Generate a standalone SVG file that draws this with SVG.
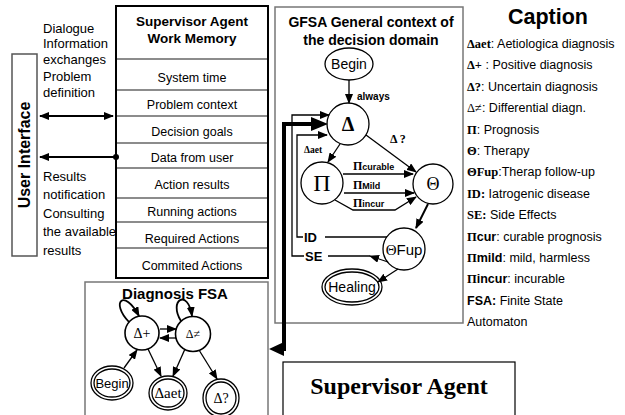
<svg xmlns="http://www.w3.org/2000/svg" width="625" height="415" viewBox="0 0 625 415">
<defs>
<marker id="ah" markerUnits="userSpaceOnUse" markerWidth="10" markerHeight="8" refX="9" refY="4" orient="auto"><path d="M0,0 L10,4 L0,8 z" fill="#000"/></marker>
<marker id="ahs" markerUnits="userSpaceOnUse" markerWidth="10" markerHeight="8" refX="1" refY="4" orient="auto"><path d="M10,0 L0,4 L10,8 z" fill="#000"/></marker>
</defs>
<style>
.sans{font-family:"Liberation Sans",Arial,sans-serif}
.serif{font-family:"Liberation Serif","Times New Roman",serif}
.b{font-weight:bold}
.box{fill:#fff;stroke:#000;stroke-width:2}
.gbox{fill:none;stroke:#777;stroke-width:1.5}
.row{stroke:#666;stroke-width:1.5}
.node{fill:#fff;stroke:#000;stroke-width:1.3}
.dn{fill:#fff;stroke:#000;stroke-width:1.6}
.ln{fill:none;stroke:#000;stroke-width:1.3}
.tk{fill:none;stroke:#000;stroke-width:1.8}
.mid{text-anchor:middle}
.cap{font-size:12.5px}
</style>
<rect width="625" height="415" fill="#fff"/>

<g id="user-interface">
<rect x="12" y="54" width="25" height="202" fill="#fff" stroke="#555" stroke-width="1.5"/>
<text class="sans b mid" font-size="16" transform="translate(30,155) rotate(-90)">User Interface</text>
</g>

<g id="left-texts" class="sans" font-size="13">
<text x="43" y="33">Dialogue</text>
<text x="43" y="48">Information</text>
<text x="43" y="64">exchanges</text>
<text x="43" y="81">Problem</text>
<text x="43" y="97">definition</text>
<text x="43" y="181">Results</text>
<text x="43" y="199">notification</text>
<text x="43" y="218">Consulting</text>
<text x="43" y="236">the available</text>
<text x="43" y="255">results</text>
</g>

<g id="work-memory">
<rect class="box" x="116" y="6" width="152" height="272"/>
<line class="row" x1="117" y1="59" x2="267" y2="59"/>
<line class="row" x1="117" y1="90" x2="267" y2="90"/>
<line class="row" x1="117" y1="116" x2="267" y2="116"/>
<line class="row" x1="117" y1="143" x2="267" y2="143"/>
<line class="row" x1="117" y1="168" x2="267" y2="168"/>
<line class="row" x1="117" y1="198" x2="267" y2="198"/>
<line class="row" x1="117" y1="222" x2="267" y2="222"/>
<line class="row" x1="117" y1="248" x2="267" y2="248"/>
<g class="sans mid" font-size="12.5">
<text class="b" x="192" y="26" font-size="13.5">Supervisor Agent</text>
<text class="b" x="192" y="43" font-size="13.5">Work Memory</text>
<text x="192" y="82">System time</text>
<text x="192" y="109">Problem context</text>
<text x="192" y="136">Decision goals</text>
<text x="192" y="162">Data from user</text>
<text x="192" y="189">Action results</text>
<text x="192" y="216">Running actions</text>
<text x="192" y="243">Required Actions</text>
<text x="192" y="270">Commited Actions</text>
</g>
</g>

<g id="gfsa">
<rect class="gbox" x="275" y="7" width="188" height="316"/>
<text class="sans b mid" x="371" y="27" font-size="14">GFSA General context of</text>
<text class="sans b mid" x="371" y="45" font-size="14">the decision domain</text>
</g>

<g id="gfsa-begin"><ellipse class="node" cx="349" cy="64" rx="24" ry="16"/><text class="sans mid" x="349" y="69" font-size="14">Begin</text></g>
<g id="gfsa-delta"><circle class="node" cx="348" cy="124" r="21"/><text class="serif b mid" x="348" y="131" font-size="20">Δ</text></g>
<g id="gfsa-pi"><circle class="node" cx="322" cy="183" r="21"/><text class="serif mid" x="322" y="191" font-size="24">Π</text></g>
<g id="gfsa-theta"><circle class="node" cx="433" cy="184" r="20"/><text class="serif mid" x="433" y="190" font-size="18">Θ</text></g>
<g id="gfsa-thetafup"><circle class="node" cx="404" cy="249" r="21"/><text class="mid" x="404" y="255" font-size="15"><tspan class="serif">Θ</tspan><tspan class="sans">Fup</tspan></text></g>
<g id="gfsa-healing"><ellipse class="node" cx="352" cy="287" rx="30" ry="18"/><ellipse class="node" cx="352" cy="287" rx="27" ry="15"/><text class="sans mid" x="352" y="292" font-size="14">Healing</text></g>

<g id="gfsa-connectors">
<line class="ln" x1="349" y1="80" x2="349" y2="103" marker-end="url(#ah)"/>
<text class="sans b" x="357" y="100" font-size="10">always</text>
<line class="ln" x1="366" y1="135" x2="416" y2="172" marker-end="url(#ah)"/>
<text class="serif b" x="390" y="143" font-size="12">Δ ?</text>
<line class="ln" x1="340" y1="144" x2="328" y2="162" marker-end="url(#ah)"/>
<text class="serif b" x="304" y="153" font-size="9.5">Δaet</text>
<line class="ln" x1="343" y1="174" x2="413" y2="174" marker-end="url(#ah)"/>
<text class="b" x="353" y="170"><tspan class="serif" font-size="12">Π</tspan><tspan class="sans" font-size="9">curable</tspan></text>
<line class="ln" x1="344" y1="193" x2="414" y2="193" marker-end="url(#ah)"/>
<text class="b" x="353" y="189"><tspan class="serif" font-size="12">Π</tspan><tspan class="sans" font-size="9">Mild</tspan></text>
<path class="ln" d="M335,200 L353,210 L395,210 L416,197" marker-end="url(#ah)"/>
<text class="b" x="353" y="207"><tspan class="serif" font-size="12">Π</tspan><tspan class="sans" font-size="9">incur</tspan></text>
<line x1="428" y1="204" x2="416" y2="228" stroke="#000" stroke-width="2" marker-end="url(#ah)"/>
<line class="ln" x1="387" y1="237" x2="325" y2="237"/>
<path class="ln" d="M303,237 L297,237 L297,135 L327,135" marker-end="url(#ah)"/>
<text class="sans b" x="304" y="242" font-size="13">ID</text>
<line class="ln" x1="388" y1="262" x2="370" y2="256" marker-end="url(#ah)"/>
<line class="ln" x1="370" y1="256" x2="328" y2="256"/>
<path class="ln" d="M304,256 L292,256 L292,115 L329,115" marker-end="url(#ah)"/>
<text class="sans b" x="305" y="261" font-size="13">SE</text>
<line class="ln" x1="398" y1="269" x2="378" y2="282" marker-end="url(#ah)"/>
<path d="M284,351 L284,124 L312,124" fill="none" stroke="#000" stroke-width="4"/>
<polygon points="328,124 311,117 311,131" fill="#000"/>
<polygon points="269,349 284,342 284,356" fill="#000"/>
</g>

<g id="caption">
<text class="sans b mid" x="548" y="24" font-size="21.5">Caption</text>
<g class="cap">
<text x="467" y="48"><tspan class="serif b">Δaet</tspan><tspan class="sans">: Aetiologica diagnosis</tspan></text>
<text x="467" y="69"><tspan class="serif b">Δ+</tspan><tspan class="sans"> :  Positive diagnosis</tspan></text>
<text x="467" y="91"><tspan class="serif b">Δ?</tspan><tspan class="sans">: Uncertain diagnosis</tspan></text>
<text x="467" y="112"><tspan class="serif">Δ≠</tspan><tspan class="sans">: Differential diagn.</tspan></text>
<text x="467" y="134"><tspan class="serif b">Π</tspan><tspan class="sans">: Prognosis</tspan></text>
<text x="467" y="155"><tspan class="serif b">Θ</tspan><tspan class="sans">: Therapy</tspan></text>
<text x="467" y="176"><tspan class="serif b">ΘFup</tspan><tspan class="sans">:Therap follow-up</tspan></text>
<text x="467" y="198"><tspan class="serif b">ID:</tspan><tspan class="sans"> Iatrogenic disease</tspan></text>
<text x="467" y="219"><tspan class="serif b">SE:</tspan><tspan class="sans"> Side Effects</tspan></text>
<text x="467" y="241"><tspan class="serif b">Π</tspan><tspan class="sans b">cur</tspan><tspan class="sans">: curable prognosis</tspan></text>
<text x="467" y="262"><tspan class="serif b">Π</tspan><tspan class="sans b">mild</tspan><tspan class="sans">: mild, harmless</tspan></text>
<text x="467" y="283"><tspan class="serif b">Π</tspan><tspan class="sans b">incur</tspan><tspan class="sans">: incurable</tspan></text>
<text x="467" y="305"><tspan class="sans b">FSA:</tspan><tspan class="sans"> Finite State</tspan></text>
<text class="sans" x="467" y="326">Automaton</text>
</g>
</g>

<g id="diagnosis-fsa">
<rect class="gbox" x="85" y="282" width="183" height="140"/>
<text class="sans b mid" x="175" y="299" font-size="15">Diagnosis FSA</text>
</g>
<g id="dfsa-dplus"><circle class="dn" cx="142" cy="333" r="17"/><text class="serif mid" x="142" y="338" font-size="14">Δ+</text></g>
<g id="dfsa-dneq"><circle class="dn" cx="193" cy="334" r="17.5"/><text class="serif mid" x="193" y="338" font-size="12">Δ≠</text></g>
<g id="dfsa-begin"><ellipse class="node" cx="112" cy="383" rx="21" ry="17"/><ellipse class="node" cx="112" cy="383" rx="18" ry="14"/><text class="sans mid" x="112" y="388" font-size="13">Begin</text></g>
<g id="dfsa-daet"><ellipse class="node" cx="168" cy="393" rx="19" ry="17"/><ellipse class="node" cx="168" cy="393" rx="16" ry="14"/><text class="serif mid" x="168" y="398" font-size="15">Δaet</text></g>
<g id="dfsa-dq"><ellipse class="node" cx="221" cy="398" rx="18" ry="19"/><ellipse class="node" cx="221" cy="398" rx="15" ry="16"/><text class="serif mid" x="221" y="403" font-size="14">Δ?</text></g>
<g id="dfsa-connectors">
<path class="tk" d="M129,322 C110,302 124,288 139,316" marker-end="url(#ah)"/>
<path class="tk" d="M181,321 C168,300 188,288 192,316" marker-end="url(#ah)"/>
<line class="ln" x1="160" y1="329" x2="176" y2="329" marker-end="url(#ah)"/>
<line class="ln" x1="176" y1="338" x2="160" y2="338" marker-end="url(#ah)"/>
<line class="ln" x1="124" y1="368" x2="137" y2="350" marker-end="url(#ah)"/>
<line class="ln" x1="148" y1="349" x2="161" y2="376" marker-end="url(#ah)"/>
<line class="ln" x1="185" y1="349" x2="173" y2="376" marker-end="url(#ah)"/>
<line class="ln" x1="199" y1="350" x2="217" y2="379" marker-end="url(#ah)"/>
</g>

<g id="supervisor-agent">
<rect x="283" y="362" width="232" height="60" fill="#fff" stroke="#000" stroke-width="1.2"/>
<text class="serif b mid" x="399" y="394" font-size="24">Supervisor Agent</text>
</g>

<g id="ui-connectors">
<line x1="40" y1="116" x2="113" y2="116" stroke="#000" stroke-width="2" marker-start="url(#ahs)" marker-end="url(#ah)"/>
<line x1="116" y1="157" x2="40" y2="157" stroke="#000" stroke-width="2" marker-end="url(#ah)"/>
<circle cx="116" cy="157" r="3" fill="#000"/>
</g>
</svg>
